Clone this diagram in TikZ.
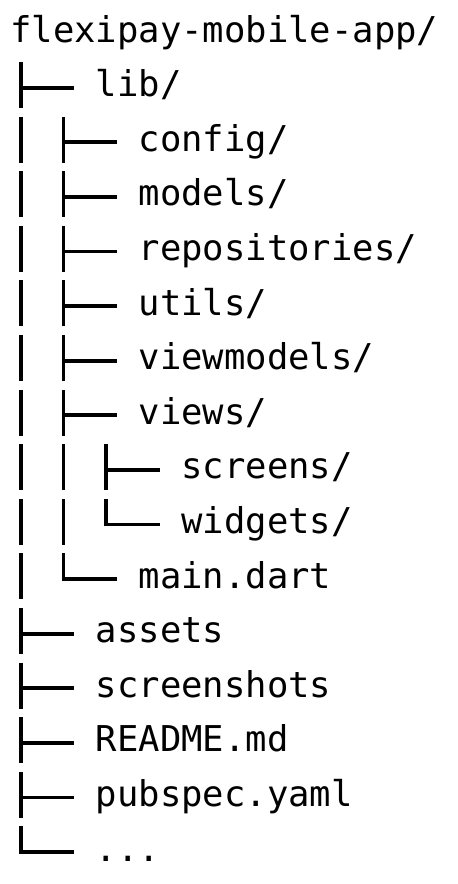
\documentclass[tikz,border=0pt]{standalone}
\usepackage{fontspec}
\setmonofont{DejaVu Sans Mono}
\usetikzlibrary{calc}
\newcommand{\cw}{21.4pt}
\newcommand{\pitch}{54.6pt}
\tikzset{
  entry/.style={anchor=base west, inner sep=0pt, font=\fontsize{35.55}{40}\selectfont\ttfamily},
  branch/.style={line width=3.9pt, line join=miter},
}
\begin{document}
\begin{tikzpicture}
        %% Page
        \fill[white] (-10pt,42pt) rectangle (448pt,-842pt);
        \useasboundingbox (-10pt,42pt) rectangle (448pt,-842pt);
        %% Entries
        \node[entry] (root)     at (0,0)                   {flexipay-mobile-app/};
        \node[entry] (lib)      at (4*\cw,-1*\pitch)       {lib/};
        \node[entry] (config)   at (6*\cw,-2*\pitch)       {config/};
        \node[entry] (models)   at (6*\cw,-3*\pitch)       {models/};
        \node[entry] (repos)    at (6*\cw,-4*\pitch)       {repositories/};
        \node[entry] (utils)    at (6*\cw,-5*\pitch)       {utils/};
        \node[entry] (vmodels)  at (6*\cw,-6*\pitch)       {viewmodels/};
        \node[entry] (views)    at (6*\cw,-7*\pitch)       {views/};
        \node[entry] (screens)  at (8*\cw,-8*\pitch)       {screens/};
        \node[entry] (widgets)  at (8*\cw,-9*\pitch)       {widgets/};
        \node[entry] (maindart) at (6*\cw,-10*\pitch)      {main.dart};
        \node[entry] (assets)   at (4*\cw,-11*\pitch)      {assets};
        \node[entry] (shots)    at (4*\cw,-12*\pitch)      {screenshots};
        \node[entry] (readme)   at (4*\cw,-13*\pitch)      {README.md};
        \node[entry] (pubspec)  at (4*\cw,-14*\pitch)      {pubspec.yaml};
        \node[entry] (more)     at (4*\cw,-15*\pitch)      {...};
        %% Branches (t = tee, l = last child)
        \foreach \n/\k in {lib/t,config/t,models/t,repos/t,utils/t,vmodels/t,views/t,
                           screens/t,widgets/l,maindart/l,assets/t,shots/t,readme/t,pubspec/t,more/l} {
          \draw[branch] ($(\n.base west)+(-3.5*\cw,34.6pt)$) |- ($(\n.base west)+(-\cw,8.9pt)$);
          \if t\k
            \draw[branch] ($(\n.base west)+(-3.5*\cw,9pt)$) -- ($(\n.base west)+(-3.5*\cw,-11.4pt)$);
          \fi
        }
        %% Continuing bars
        \foreach \r in {2,...,10}
          \draw[branch] (0.5*\cw,-\r*\pitch+34.6pt) -- (0.5*\cw,-\r*\pitch-11.4pt);
        \foreach \r in {8,9}
          \draw[branch] (2.5*\cw,-\r*\pitch+34.6pt) -- (2.5*\cw,-\r*\pitch-11.4pt);
    \end{tikzpicture}
\end{document}
